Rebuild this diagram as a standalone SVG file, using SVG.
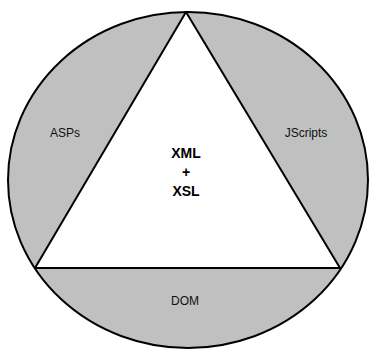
<svg xmlns="http://www.w3.org/2000/svg" width="370" height="349" viewBox="0 0 370 349">
<style>
.shape{stroke:#000;stroke-width:2;stroke-linejoin:round}
.lbl{font-family:"Liberation Sans",Arial,sans-serif;font-size:12px;fill:#111;text-anchor:middle}
.core{font-family:"Liberation Sans",Arial,sans-serif;font-size:14px;font-weight:bold;fill:#000;text-anchor:middle}
</style>
<rect width="370" height="349" fill="#fff"/>
<g id="circle">
<ellipse class="shape" cx="188" cy="180" rx="180" ry="168" fill="#c0c0c0"/>
</g>
<g id="triangle">
<polygon class="shape" points="186,12 35,268 340,268" fill="#fff"/>
</g>
<g id="asps"><text class="lbl" x="65" y="137">ASPs</text></g>
<g id="jscripts"><text class="lbl" x="306" y="137">JScripts</text></g>
<g id="dom"><text class="lbl" x="185" y="305">DOM</text></g>
<g id="core">
<text class="core" x="186" y="158">XML</text>
<text class="core" x="186" y="177">+</text>
<text class="core" x="186" y="196">XSL</text>
</g>
</svg>
